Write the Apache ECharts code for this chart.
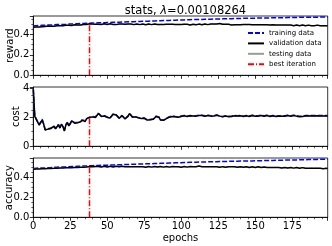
<!DOCTYPE html>
<html><head><meta charset="utf-8">
<script src="https://cdn.jsdelivr.net/npm/echarts@6/dist/echarts.min.js"></script>
<style>html,body{margin:0;padding:0;background:#fff}#c{width:332px;height:246px}</style>
</head><body><div id="c"></div>
<script>
const titleText = 'stats, {i|λ}=0.00108264';
const seriesNames = ['training data', 'validation data', 'testing data', 'best iteration'];
const panelNames = ['reward', 'cost', 'accuracy'];
const xLabel = 'epochs';
const bestEpoch = 38;
const xTicks = [0, 25, 50, 75, 100, 125, 150, 175];

const rewardTrain = [0.482,0.480,0.484,0.482,0.486,0.484,0.487,0.485,0.488,0.487,0.490,0.488,0.491,0.490,0.492,0.491,0.494,0.492,0.495,0.494,0.496,0.495,0.497,0.496,0.499,0.498,0.500,0.499,0.502,0.501,0.503,0.502,0.504,0.503,0.506,0.505,0.507,0.506,0.508,0.507,0.509,0.508,0.510,0.509,0.511,0.510,0.512,0.511,0.513,0.512,0.514,0.513,0.515,0.514,0.516,0.515,0.517,0.516,0.518,0.517,0.519,0.518,0.520,0.519,0.521,0.520,0.522,0.521,0.523,0.522,0.524,0.523,0.525,0.524,0.526,0.525,0.527,0.526,0.528,0.527,0.529,0.528,0.530,0.529,0.531,0.530,0.532,0.531,0.533,0.532,0.534,0.533,0.535,0.534,0.536,0.535,0.537,0.536,0.538,0.537,0.539,0.538,0.540,0.539,0.541,0.540,0.542,0.541,0.543,0.542,0.543,0.542,0.544,0.543,0.545,0.544,0.546,0.545,0.546,0.545,0.547,0.546,0.548,0.547,0.549,0.548,0.549,0.548,0.550,0.549,0.551,0.550,0.551,0.550,0.552,0.551,0.553,0.552,0.553,0.552,0.554,0.553,0.555,0.554,0.555,0.554,0.556,0.555,0.556,0.555,0.557,0.556,0.558,0.557,0.558,0.557,0.559,0.558,0.559,0.558,0.560,0.559,0.560,0.559,0.561,0.560,0.561,0.560,0.562,0.561,0.562,0.561,0.563,0.562,0.563,0.562,0.564,0.563,0.564,0.563,0.565,0.564,0.565,0.564,0.566,0.565,0.566,0.565,0.566,0.565,0.567,0.566,0.567,0.566,0.568,0.567,0.568,0.567,0.568,0.567];
const rewardVal = [0.468,0.472,0.470,0.474,0.471,0.476,0.473,0.478,0.475,0.477,0.480,0.476,0.479,0.482,0.478,0.481,0.484,0.480,0.483,0.486,0.482,0.485,0.488,0.484,0.487,0.490,0.486,0.489,0.492,0.488,0.491,0.494,0.490,0.493,0.496,0.492,0.495,0.498,0.502,0.496,0.499,0.495,0.498,0.501,0.497,0.500,0.496,0.499,0.502,0.498,0.495,0.499,0.503,0.500,0.496,0.498,0.494,0.497,0.500,0.496,0.499,0.502,0.498,0.495,0.499,0.503,0.500,0.497,0.494,0.498,0.501,0.497,0.494,0.497,0.500,0.496,0.493,0.497,0.500,0.497,0.494,0.498,0.501,0.498,0.495,0.492,0.496,0.499,0.496,0.493,0.497,0.500,0.497,0.494,0.497,0.500,0.496,0.493,0.496,0.499,0.496,0.493,0.497,0.500,0.497,0.494,0.491,0.495,0.498,0.495,0.492,0.496,0.499,0.496,0.493,0.497,0.500,0.497,0.494,0.497,0.500,0.503,0.499,0.496,0.499,0.502,0.505,0.501,0.498,0.501,0.498,0.495,0.498,0.494,0.491,0.495,0.492,0.489,0.493,0.496,0.493,0.490,0.494,0.497,0.494,0.491,0.494,0.497,0.493,0.490,0.493,0.496,0.493,0.490,0.493,0.496,0.492,0.489,0.492,0.495,0.491,0.488,0.492,0.495,0.491,0.488,0.491,0.494,0.490,0.487,0.490,0.493,0.490,0.487,0.490,0.486,0.483,0.487,0.490,0.487,0.484,0.487,0.490,0.486,0.483,0.486,0.489,0.486,0.483,0.486,0.483,0.486,0.489,0.485,0.482,0.485,0.482,0.479,0.482,0.480];
const rewardTest = [0.470,0.471,0.472,0.473,0.473,0.475,0.474,0.477,0.476,0.478,0.479,0.477,0.480,0.481,0.479,0.482,0.483,0.481,0.484,0.485,0.483,0.486,0.487,0.485,0.488,0.489,0.487,0.490,0.491,0.489,0.492,0.493,0.491,0.494,0.495,0.493,0.496,0.497,0.500,0.497,0.498,0.496,0.499,0.500,0.498,0.499,0.497,0.500,0.501,0.497,0.496,0.500,0.502,0.499,0.497,0.497,0.495,0.498,0.499,0.497,0.500,0.501,0.497,0.496,0.500,0.502,0.499,0.496,0.495,0.499,0.500,0.496,0.495,0.498,0.499,0.495,0.494,0.498,0.499,0.496,0.495,0.499,0.500,0.497,0.494,0.493,0.497,0.498,0.495,0.494,0.498,0.499,0.496,0.495,0.498,0.499,0.495,0.494,0.497,0.498,0.495,0.494,0.498,0.499,0.496,0.493,0.492,0.496,0.497,0.494,0.493,0.497,0.498,0.495,0.494,0.498,0.499,0.496,0.495,0.498,0.501,0.502,0.498,0.497,0.500,0.503,0.504,0.500,0.499,0.500,0.497,0.496,0.497,0.493,0.492,0.494,0.491,0.490,0.494,0.495,0.492,0.491,0.495,0.496,0.493,0.492,0.495,0.496,0.492,0.491,0.494,0.495,0.492,0.491,0.494,0.495,0.491,0.490,0.493,0.494,0.490,0.489,0.493,0.494,0.490,0.489,0.492,0.493,0.489,0.488,0.491,0.492,0.489,0.488,0.489,0.485,0.484,0.488,0.489,0.486,0.485,0.488,0.489,0.485,0.484,0.487,0.488,0.485,0.484,0.485,0.484,0.487,0.488,0.484,0.483,0.484,0.481,0.480,0.483,0.481];

const costTrain = [3.90,2.10,1.88,1.70,1.50,1.42,1.86,1.55,1.15,1.03,1.20,1.12,1.25,1.18,1.40,1.22,1.33,1.50,1.28,1.52,1.37,1.08,1.48,1.64,1.43,1.58,1.77,1.64,1.61,1.72,1.65,1.74,1.71,1.84,1.78,1.73,1.90,1.97,2.00,1.88,2.04,2.17,2.01,2.12,2.27,2.20,2.08,1.98,2.10,2.14,2.01,1.88,1.97,2.04,2.22,2.32,2.17,2.08,1.95,2.02,2.12,2.08,1.91,1.83,2.07,2.27,2.15,2.03,1.98,2.04,1.93,1.97,2.02,1.93,1.88,1.94,1.91,1.83,1.78,1.84,1.81,1.87,1.97,2.07,2.17,2.01,1.83,1.75,1.80,1.87,1.92,1.98,2.03,2.11,2.08,2.01,2.05,2.08,2.03,2.06,2.08,2.10,2.12,2.09,2.07,2.09,2.11,2.13,2.10,2.08,2.10,2.12,2.14,2.16,2.13,2.10,2.09,2.11,2.14,2.12,2.09,2.08,2.10,2.13,2.15,2.12,2.09,2.07,2.05,2.08,2.10,2.09,2.06,2.04,2.07,2.09,2.11,2.09,2.10,2.13,2.11,2.09,2.07,2.09,2.12,2.10,2.08,2.10,2.13,2.12,2.09,2.07,2.10,2.12,2.14,2.12,2.09,2.11,2.13,2.11,2.08,2.10,2.12,2.11,2.08,2.06,2.09,2.11,2.10,2.07,2.09,2.11,2.13,2.11,2.09,2.11,2.14,2.12,2.10,2.08,2.06,2.03,2.06,2.09,2.11,2.09,2.11,2.13,2.12,2.09,2.11,2.13,2.12,2.09,2.11,2.13,2.11,2.09,2.12,2.10];
const costVal = [3.92,2.05,1.85,1.72,1.45,1.38,1.80,1.52,1.12,1.00,1.18,1.10,1.22,1.15,1.38,1.20,1.30,1.48,1.25,1.50,1.35,1.05,1.45,1.62,1.40,1.55,1.75,1.62,1.58,1.70,1.62,1.72,1.68,1.82,1.75,1.70,1.88,1.95,1.98,1.85,2.02,2.15,1.98,2.10,2.25,2.18,2.05,1.95,2.08,2.12,1.98,1.85,1.95,2.02,2.20,2.30,2.15,2.05,1.92,2.00,2.10,2.05,1.88,1.80,2.05,2.25,2.12,2.00,1.95,2.02,1.90,1.95,2.00,1.90,1.85,1.92,1.88,1.80,1.75,1.82,1.78,1.85,1.95,2.05,2.15,1.98,1.80,1.72,1.78,1.85,1.90,1.95,2.00,2.08,2.05,1.98,2.02,2.05,2.00,2.03,2.05,2.08,2.10,2.07,2.04,2.06,2.09,2.11,2.08,2.05,2.07,2.10,2.12,2.14,2.11,2.08,2.06,2.09,2.12,2.10,2.07,2.05,2.08,2.11,2.13,2.10,2.07,2.04,2.02,2.05,2.08,2.06,2.03,2.01,2.04,2.07,2.09,2.06,2.08,2.11,2.09,2.06,2.04,2.07,2.10,2.08,2.05,2.08,2.11,2.09,2.06,2.04,2.07,2.10,2.12,2.09,2.06,2.08,2.11,2.08,2.05,2.07,2.10,2.08,2.05,2.03,2.06,2.09,2.07,2.04,2.06,2.09,2.11,2.08,2.06,2.09,2.12,2.10,2.07,2.05,2.03,2.00,2.04,2.07,2.09,2.06,2.08,2.11,2.09,2.06,2.08,2.11,2.09,2.06,2.08,2.10,2.08,2.06,2.09,2.07];
const costTest = [3.91,2.06,1.86,1.71,1.46,1.39,1.81,1.53,1.13,1.01,1.17,1.11,1.21,1.16,1.37,1.21,1.31,1.47,1.26,1.49,1.34,1.06,1.44,1.61,1.41,1.56,1.74,1.63,1.59,1.69,1.63,1.71,1.69,1.81,1.76,1.71,1.87,1.94,1.97,1.86,2.01,2.14,1.99,2.09,2.24,2.17,2.06,1.96,2.07,2.11,1.99,1.86,1.94,2.03,2.19,2.29,2.14,2.06,1.93,2.01,2.09,2.04,1.89,1.81,2.04,2.24,2.11,2.01,1.96,2.01,1.91,1.94,2.01,1.91,1.86,1.91,1.89,1.81,1.76,1.81,1.79,1.84,1.94,2.04,2.14,1.99,1.81,1.73,1.79,1.84,1.91,1.94,2.01,2.07,2.04,1.99,2.01,2.04,2.01,2.02,2.06,2.07,2.09,2.08,2.05,2.05,2.08,2.10,2.09,2.06,2.06,2.09,2.11,2.13,2.12,2.09,2.07,2.08,2.11,2.11,2.08,2.06,2.07,2.10,2.12,2.11,2.08,2.05,2.03,2.04,2.07,2.07,2.04,2.02,2.03,2.06,2.08,2.07,2.07,2.10,2.10,2.07,2.05,2.06,2.09,2.09,2.06,2.07,2.10,2.10,2.07,2.05,2.06,2.09,2.11,2.10,2.07,2.07,2.10,2.09,2.06,2.06,2.09,2.09,2.06,2.04,2.05,2.08,2.08,2.05,2.05,2.08,2.10,2.09,2.07,2.08,2.11,2.11,2.08,2.06,2.04,2.01,2.03,2.06,2.08,2.07,2.07,2.10,2.10,2.07,2.07,2.10,2.10,2.07,2.07,2.09,2.09,2.07,2.08,2.08];

const accTrain = [0.492,0.490,0.494,0.492,0.496,0.494,0.497,0.495,0.498,0.497,0.500,0.498,0.501,0.500,0.503,0.501,0.504,0.503,0.506,0.504,0.507,0.506,0.508,0.507,0.510,0.509,0.511,0.510,0.512,0.511,0.514,0.513,0.515,0.514,0.516,0.515,0.517,0.516,0.519,0.518,0.520,0.519,0.521,0.520,0.522,0.521,0.523,0.522,0.524,0.523,0.525,0.524,0.526,0.525,0.527,0.526,0.528,0.527,0.529,0.528,0.530,0.529,0.531,0.530,0.532,0.531,0.533,0.532,0.534,0.533,0.535,0.534,0.536,0.535,0.537,0.536,0.538,0.537,0.539,0.538,0.540,0.539,0.541,0.540,0.542,0.541,0.543,0.542,0.544,0.543,0.545,0.544,0.546,0.545,0.547,0.546,0.548,0.547,0.549,0.548,0.550,0.549,0.551,0.550,0.552,0.551,0.553,0.552,0.554,0.553,0.555,0.554,0.556,0.555,0.557,0.556,0.557,0.556,0.558,0.557,0.559,0.558,0.560,0.559,0.560,0.559,0.561,0.560,0.562,0.561,0.563,0.562,0.563,0.562,0.564,0.563,0.565,0.564,0.565,0.564,0.566,0.565,0.567,0.566,0.567,0.566,0.568,0.567,0.568,0.567,0.569,0.568,0.570,0.569,0.570,0.569,0.571,0.570,0.572,0.571,0.572,0.571,0.573,0.572,0.574,0.573,0.574,0.573,0.575,0.574,0.576,0.575,0.576,0.575,0.577,0.576,0.578,0.577,0.578,0.577,0.579,0.578,0.580,0.579,0.580,0.579,0.581,0.580,0.582,0.581,0.582,0.581,0.583,0.582,0.584,0.583,0.584,0.583,0.585,0.584];
const accVal = [0.484,0.488,0.486,0.490,0.487,0.491,0.489,0.492,0.490,0.493,0.491,0.494,0.492,0.496,0.493,0.497,0.495,0.498,0.496,0.499,0.497,0.500,0.498,0.502,0.499,0.503,0.500,0.504,0.501,0.505,0.502,0.506,0.503,0.507,0.505,0.508,0.506,0.509,0.511,0.507,0.510,0.507,0.511,0.508,0.512,0.509,0.506,0.510,0.513,0.509,0.506,0.510,0.513,0.510,0.507,0.510,0.514,0.511,0.508,0.511,0.514,0.511,0.508,0.505,0.509,0.512,0.509,0.506,0.510,0.513,0.510,0.507,0.510,0.513,0.510,0.507,0.504,0.508,0.511,0.508,0.505,0.509,0.512,0.509,0.506,0.509,0.512,0.508,0.505,0.508,0.511,0.508,0.505,0.508,0.511,0.514,0.510,0.507,0.510,0.507,0.504,0.508,0.511,0.508,0.505,0.508,0.511,0.514,0.510,0.507,0.510,0.513,0.516,0.512,0.509,0.512,0.509,0.506,0.509,0.512,0.509,0.506,0.509,0.512,0.509,0.506,0.503,0.507,0.510,0.507,0.504,0.507,0.510,0.513,0.509,0.506,0.509,0.506,0.503,0.506,0.509,0.506,0.503,0.506,0.509,0.505,0.502,0.505,0.508,0.505,0.502,0.505,0.508,0.504,0.501,0.504,0.507,0.504,0.501,0.504,0.501,0.498,0.502,0.505,0.502,0.499,0.502,0.499,0.496,0.499,0.502,0.499,0.496,0.499,0.502,0.498,0.495,0.498,0.501,0.497,0.494,0.497,0.500,0.496,0.493,0.490,0.494,0.497,0.494,0.491,0.494,0.497,0.494,0.491,0.494,0.491,0.488,0.491,0.494,0.490];
const accTest = [0.486,0.487,0.488,0.489,0.489,0.490,0.490,0.491,0.491,0.492,0.492,0.493,0.493,0.495,0.494,0.496,0.496,0.497,0.497,0.498,0.498,0.499,0.499,0.501,0.500,0.502,0.501,0.503,0.502,0.504,0.503,0.505,0.504,0.506,0.506,0.507,0.507,0.508,0.510,0.508,0.509,0.508,0.510,0.509,0.511,0.510,0.507,0.509,0.512,0.510,0.507,0.509,0.512,0.511,0.508,0.509,0.513,0.512,0.509,0.510,0.513,0.512,0.509,0.506,0.508,0.511,0.510,0.507,0.509,0.512,0.511,0.508,0.509,0.512,0.511,0.508,0.505,0.507,0.510,0.509,0.506,0.508,0.511,0.510,0.507,0.508,0.511,0.509,0.506,0.507,0.510,0.509,0.506,0.507,0.510,0.513,0.511,0.508,0.509,0.508,0.505,0.507,0.510,0.509,0.506,0.507,0.510,0.513,0.511,0.508,0.509,0.512,0.515,0.513,0.510,0.511,0.510,0.507,0.508,0.511,0.510,0.507,0.508,0.511,0.510,0.507,0.504,0.506,0.509,0.508,0.505,0.506,0.509,0.512,0.510,0.507,0.508,0.507,0.504,0.505,0.508,0.507,0.504,0.505,0.508,0.506,0.503,0.504,0.507,0.506,0.503,0.504,0.507,0.505,0.502,0.503,0.506,0.505,0.502,0.503,0.502,0.499,0.501,0.504,0.503,0.500,0.501,0.500,0.497,0.498,0.501,0.500,0.497,0.498,0.501,0.499,0.496,0.497,0.500,0.498,0.495,0.496,0.499,0.497,0.494,0.491,0.493,0.496,0.495,0.492,0.493,0.496,0.495,0.492,0.493,0.492,0.489,0.490,0.493,0.491];

const FONT = 'DejaVu Sans';
const panels = [
  {train: rewardTrain, val: rewardVal, test: rewardTest, max: 0.578, interval: 0.2, dec: 1, nameGap: 18},
  {train: costTrain, val: costVal, test: costTest, max: 4.07, interval: 2, dec: 0, nameGap: 11.5},
  {train: accTrain, val: accVal, test: accTest, max: 0.597, interval: 0.2, dec: 1, nameGap: 19}
];
const gridTops = [16, 87, 158];
const gridH = 59.3;

const chart = echarts.init(document.getElementById('c'), null, {renderer: 'canvas'});
const toXY = arr => arr.map((v, i) => [i, v]);

const grid = [], xAxis = [], yAxis = [], series = [];
panels.forEach((p, k) => {
  grid.push({left: 33.3, right: 4.3, top: gridTops[k], height: gridH, containLabel: false, outerBoundsMode: 'none',
    show: true, borderColor: '#000', borderWidth: 0.8, backgroundColor: 'transparent'});
  xAxis.push({
    type: 'value', gridIndex: k, min: 0, max: 199, interval: 25,
    axisLine: {show: true, onZero: false, lineStyle: {color: '#000', width: 0.8}},
    axisTick: {show: true, length: 3.5, lineStyle: {color: '#000', width: 0.8}},
    minorTick: {show: true, splitNumber: 5, length: 2, lineStyle: {color: '#000', width: 0.6}},
    splitLine: {show: false},
    axisLabel: {show: k === 2, showMaxLabel: false, fontSize: 10, fontFamily: FONT, color: '#000', margin: 4},
    name: k === 2 ? xLabel : '', nameLocation: 'middle', nameGap: 16, nameMoveOverlap: false,
    nameTextStyle: {fontSize: 10, fontFamily: FONT, color: '#000'}
  });
  yAxis.push({
    type: 'value', gridIndex: k, min: 0, max: p.max, interval: p.interval,
    axisLine: {show: true, lineStyle: {color: '#000', width: 0.8}},
    axisTick: {show: true, length: 3.5, lineStyle: {color: '#000', width: 0.8}},
    minorTick: {show: true, splitNumber: 4, length: 2, lineStyle: {color: '#000', width: 0.6}},
    splitLine: {show: false},
    axisLabel: {showMaxLabel: false, fontSize: 10, fontFamily: FONT, color: '#000', margin: 4,
      formatter: v => v.toFixed(p.dec)},
    name: panelNames[k], nameLocation: 'middle', nameGap: p.nameGap, nameRotate: 90, nameMoveOverlap: false,
    nameTextStyle: {fontSize: 10, fontFamily: FONT, color: '#000'}
  });
  const common = {type: 'line', xAxisIndex: k, yAxisIndex: k, symbol: 'none', showSymbol: false, animation: false, silent: true};
  series.push(Object.assign({}, common, {name: seriesNames[0], data: toXY(p.train), z: 2,
    itemStyle: {color: '#0000ff'}, lineStyle: {color: '#0000ff', width: 1.5, type: [5, 2]}}));
  series.push(Object.assign({}, common, {name: seriesNames[2], data: toXY(p.test), z: 3,
    itemStyle: {color: '#999999'}, lineStyle: {color: '#999999', width: 0.8}}));
  series.push(Object.assign({}, common, {name: seriesNames[1], data: toXY(p.val), z: 4,
    itemStyle: {color: '#000000'}, lineStyle: {color: '#000000', width: 1.5}}));
  series.push(Object.assign({}, common, {name: seriesNames[3], data: [[bestEpoch, 0], [bestEpoch, p.val[bestEpoch]]], z: 5,
    itemStyle: {color: '#ff0000'}, lineStyle: {color: '#ff0000', width: 1.5, type: [6, 2, 1, 2]}}));
});

chart.setOption({
  animation: false,
  backgroundColor: '#fff',
  textStyle: {fontFamily: FONT},
  title: {
    text: titleText, left: 180.5, top: 0, textAlign: 'center',
    textStyle: {fontSize: 11.5, fontWeight: 'normal', color: '#000', fontFamily: FONT,
      rich: {i: {fontStyle: 'italic', fontSize: 11.5, fontFamily: FONT, color: '#000'}}}
  },
  legend: {
    data: [seriesNames[0], seriesNames[1], seriesNames[2], seriesNames[3]],
    orient: 'vertical', left: 247, top: 29, padding: 0,
    itemWidth: 16, itemHeight: 8, itemGap: 2.4,
    itemStyle: {opacity: 0},
    textStyle: {fontSize: 7, fontFamily: FONT, color: '#000', lineHeight: 8}
  },
  grid, xAxis, yAxis, series
});
</script></body></html>
